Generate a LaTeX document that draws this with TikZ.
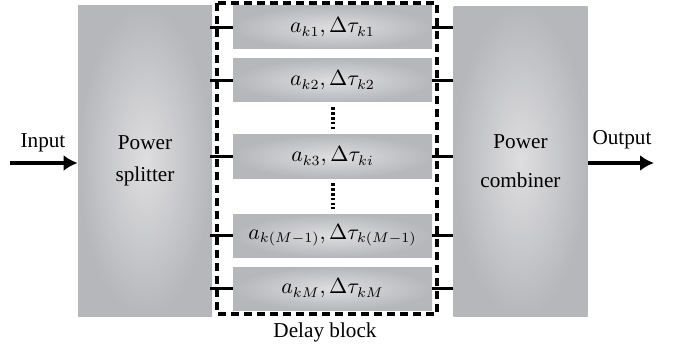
\documentclass[tikz,border=0pt]{standalone}
\usepackage{fontspec}
\setmainfont{Liberation Serif}
\usetikzlibrary{positioning,arrows.meta}
\definecolor{shadeout}{RGB}{182,183,187}
\definecolor{shadein}{RGB}{222,222,224}

\begin{document}
\begin{tikzpicture}[
  x=0.5pt, y=-0.5pt,
  txt/.style={font=\fontsize{10.6}{13}\selectfont},
  bigblock/.style={rectangle, txt, inner color=shadein, outer color=shadeout, minimum width=67pt, minimum height=155pt, align=center},
  delaybox/.style={rectangle, txt, inner color=shadein, outer color=shadeout, minimum width=99.5pt, minimum height=21.5pt, inner sep=0pt},
  arrow/.style = {line width=2.2pt,-{Latex[length=7pt,width=8pt]}},
  tick/.style = {line width=1.8pt},
  vdots/.style = {line width=2pt, dash pattern=on 1.3pt off 1.1pt, shorten <=2.5pt, shorten >=2.5pt},
  dashbox/.style = {line width=2pt, dash pattern=on 4pt off 2.5pt}
]
\useasboundingbox (0,0) rectangle (678,352);

%Blocks
\node[bigblock] (split) at (145,161) {Power\\[3pt]splitter};
\node[bigblock] (comb) at (520.5,161.5) {Power\\[6.5pt]combiner};

%Delay lines
\node[delaybox] (d1) at (332.5,27.5) {$a_{k1},\Delta\tau_{k1}$};
\node[delaybox] (d2) at (332.5,80.5) {$a_{k2},\Delta\tau_{k2}$};
\node[delaybox] (d3) at (332.5,156.5) {$a_{k3},\Delta\tau_{ki}$};
\node[delaybox] (d4) at (332.5,235.5) {$a_{k(M-1)},\Delta\tau_{k(M-1)}$};
\node[delaybox] (d5) at (332.5,288.5) {$a_{kM},\Delta\tau_{kM}$};

\draw[vdots] (d2) -- (d3);
\draw[vdots] (d3) -- (d4);

%Delay block frame
\coordinate (dtl) at (217,3);
\coordinate (dbr) at (437,314);
\draw[dashbox] (dtl) rectangle (dbr);
\node[txt] (dlabel) at (325,332) {Delay block};

%Ticks
\foreach \i in {1,...,5} {
  \draw[tick] ([xshift=-1pt]split.east |- d\i.west) -- (d\i.west);
  \draw[tick] (d\i.east) -- (comb.west |- d\i.east);
}

%In / out
\coordinate (in) at (10,163);
\coordinate (out) at (654,163);
\draw[arrow] (in) -- (split.west |- in);
\draw[arrow] (comb.east |- out) -- (out);
\node[txt] (inlabel) at (43,143) {Input};
\node[txt] (outlabel) at (622,140) {Output};

\end{tikzpicture}
\end{document}
